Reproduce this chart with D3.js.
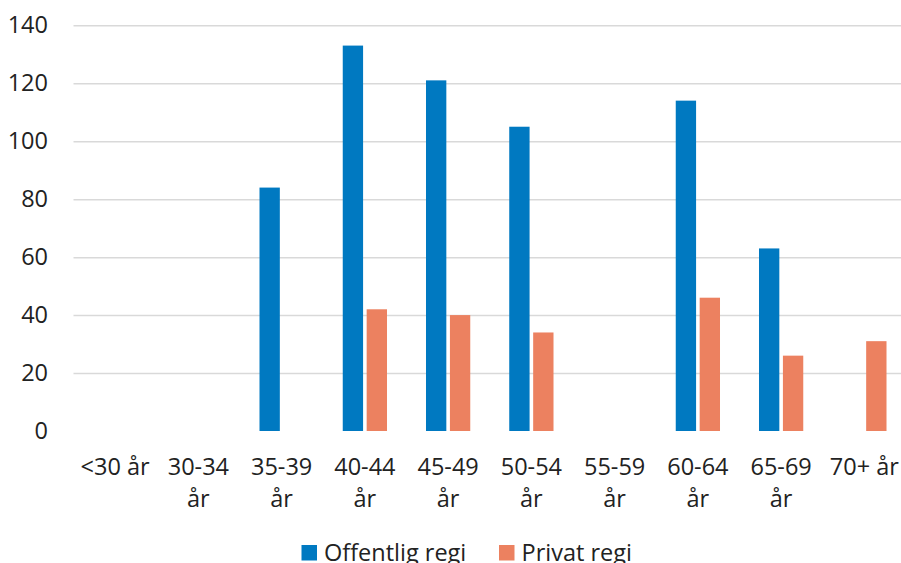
<!DOCTYPE html>
<meta charset="utf-8">
<style>
body { margin: 0; background: #fff; }
text { font-family: "Open Sans", "Noto Sans", sans-serif; fill: #222; }
.grid line { stroke: #d9d9d9; stroke-width: 1.5px; }
</style>
<svg width="901" height="563"></svg>
<script src="https://d3js.org/d3.v7.min.js"></script>
<script>

var categories = ["<30 år", "30-34 år", "35-39 år", "40-44 år", "45-49 år", "50-54 år", "55-59 år", "60-64 år", "65-69 år", "70+ år"];
var seriesNames = ["Offentlig regi", "Privat regi"];
var offentlig = [null, null, 84, 133, 121, 105, null, 114, 63, null];
var privat = [null, null, null, 42, 40, 34, null, 46, 26, 31];
var yTicks = [0, 20, 40, 60, 80, 100, 120, 140];
var colors = ["#0079c1", "#ec8160"];

var svg = d3.select("svg");
var fontSize = 23.5;

var x0 = d3.scaleBand().domain(categories).range([73.5, 906]);
var x1 = d3.scaleBand().domain(seriesNames).range([0, x0.bandwidth()])
    .paddingInner(0.15).paddingOuter(0.815);
var y = d3.scaleLinear().domain([0, 140]).range([431, 25.3]);

// gridlines + y labels
var yAxis = svg.append("g")
    .attr("class", "grid")
    .attr("transform", "translate(73.5,0)")
    .call(d3.axisLeft(y).tickValues(yTicks).tickSize(-(906 - 73.5)).tickPadding(25.5));
yAxis.select(".domain").remove();
yAxis.selectAll(".tick").filter(function(d) { return d === 0; }).select("line").remove();
yAxis.selectAll("text").attr("font-size", fontSize).attr("font-family", null).style("fill", "#222");

// bars
var rows = [];
categories.forEach(function(c, i) {
  rows.push({cat: c, s: seriesNames[0], v: offentlig[i], col: colors[0]});
  rows.push({cat: c, s: seriesNames[1], v: privat[i], col: colors[1]});
});

svg.append("g").selectAll("rect")
  .data(rows.filter(function(d) { return d.v != null; }))
  .enter().append("rect")
    .attr("x", function(d) { return x0(d.cat) + x1(d.s); })
    .attr("y", function(d) { return y(d.v); })
    .attr("width", x1.bandwidth())
    .attr("height", function(d) { return y(0) - y(d.v); })
    .attr("fill", function(d) { return d.col; });

// x labels, wrap if wider than the band
var xl = svg.append("g").selectAll("text")
  .data(categories)
  .enter().append("text")
    .attr("text-anchor", "middle")
    .attr("font-size", fontSize)
    .attr("x", function(d) { return x0(d) + x0.bandwidth() / 2; })
    .attr("y", 475)
    .text(function(d) { return d; });

xl.each(function(d) {
  var t = d3.select(this);
  if (this.getComputedTextLength() > x0.bandwidth() - 6) {
    var parts = d.split(" ");
    var cx = t.attr("x");
    t.text(null);
    t.append("tspan").attr("x", cx).text(parts[0]);
    t.append("tspan").attr("x", cx).attr("dy", 31.7).text(parts.slice(1).join(" "));
  }
});

// legend
var legendX = [301.5, 499];
var lg = svg.append("g").selectAll("g")
  .data(seriesNames)
  .enter().append("g")
    .attr("transform", function(d, i) { return "translate(" + legendX[i] + ",545)"; });
lg.append("rect").attr("width", 15.5).attr("height", 15.5)
  .attr("fill", function(d, i) { return colors[i]; });
lg.append("text").attr("x", 22.5).attr("y", 15.5).attr("font-size", fontSize)
  .text(function(d) { return d; });

</script>
